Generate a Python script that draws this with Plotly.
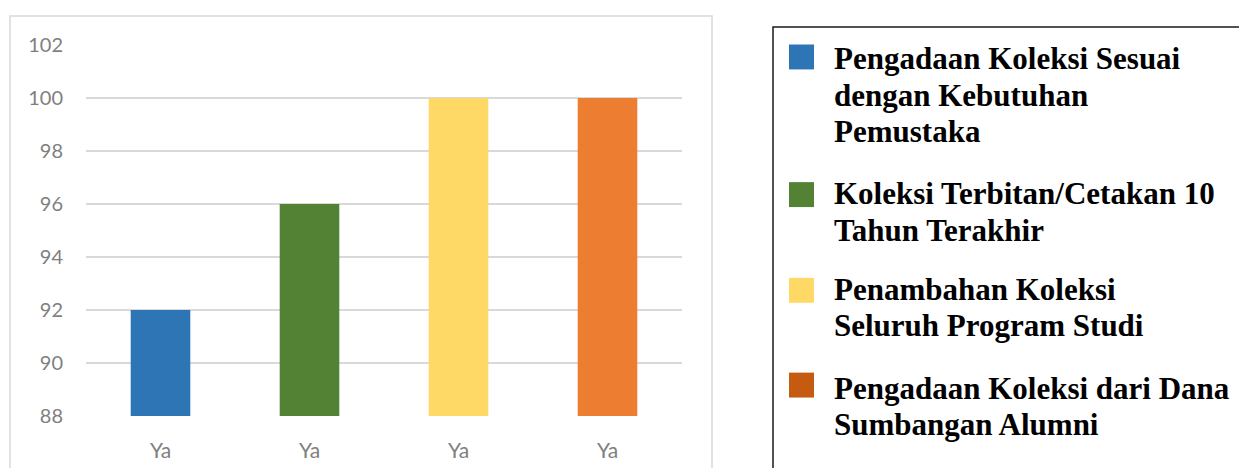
import plotly.graph_objects as go

# ---- data ----
categories = ["Ya", "Ya", "Ya", "Ya"]
values = [92, 96, 100, 100]
series_names = [
    "Pengadaan Koleksi Sesuai dengan Kebutuhan Pemustaka",
    "Koleksi Terbitan/Cetakan 10 Tahun Terakhir",
    "Penambahan Koleksi Seluruh Program Studi",
    "Pengadaan Koleksi dari Dana Sumbangan Alumni",
]
legend_lines = [
    ["Pengadaan Koleksi Sesuai", "dengan Kebutuhan", "Pemustaka"],
    ["Koleksi Terbitan/Cetakan 10", "Tahun Terakhir"],
    ["Penambahan Koleksi", "Seluruh Program Studi"],
    ["Pengadaan Koleksi dari Dana", "Sumbangan Alumni"],
]
bar_colors = ["#2E75B6", "#548235", "#FFD966", "#ED7D31"]
legend_colors = ["#2E75B6", "#548235", "#FFD966", "#C55A11"]
y_ticks = [88, 90, 92, 94, 96, 98, 100, 102]

REF_H = 468
W, H = 1239, 474
K = H / REF_H
L, R = 86, 682
T, B = 44 * K, 416 * K  # plot area in px

def px(x):
    return (x - L) / (R - L)

def py(y):
    return (B - y * K) / (B - T)

xs = list(range(len(values)))
base = y_ticks[0]

fig = go.Figure()
fig.add_trace(go.Bar(
    x=xs,
    y=[v - base for v in values],
    base=base,
    marker=dict(color=bar_colors, line=dict(width=0)),
    width=0.4,
    showlegend=False,
    hoverinfo="skip",
))

shapes = []
# chart area border
shapes.append(dict(type="rect", xref="paper", yref="paper",
                   x0=px(10), x1=px(712), y0=py(490), y1=py(15),
                   line=dict(color="#D9D9D9", width=1.5), layer="below"))
# legend box (left and top edges; the rest runs off the page)
shapes.append(dict(type="path", xref="paper", yref="paper",
                   path=f"M {px(773)},{py(490)} L {px(773)},{py(26)} L {px(1239)},{py(26)}",
                   line=dict(color="#1a1a1a", width=1.5)))

annotations = []
first_line_centers = [58, 193, 289, 388]
line_gap = 36.5
marker_centers = [56, 194, 290, 385]
for i, lines in enumerate(legend_lines):
    mc = marker_centers[i]
    shapes.append(dict(type="rect", xref="paper", yref="paper",
                       x0=px(789), x1=px(814), y0=py(mc + 12.5), y1=py(mc - 12.5),
                       fillcolor=legend_colors[i], line=dict(width=0)))
    for j, ln in enumerate(lines):
        annotations.append(dict(
            text="<b>" + ln + "</b>", xref="paper", yref="paper",
            x=px(832), y=py(first_line_centers[i] + j * line_gap),
            xanchor="left", yanchor="middle", showarrow=False, align="left",
            font=dict(family="Liberation Serif", size=31, color="#000000"),
        ))

fig.update_layout(
    width=W, height=H,
    margin=dict(l=L, r=W - R, t=T, b=H - B, pad=0),
    paper_bgcolor="white", plot_bgcolor="white",
    shapes=shapes, annotations=annotations,
    xaxis=dict(
        tickmode="array", tickvals=xs, ticktext=categories,
        range=[-0.5, len(values) - 0.5],
        showgrid=False, zeroline=False, showline=False, ticks="",
        tickfont=dict(family="Lato", size=21, color="#7F7F7F"),
        ticklabelstandoff=20,
    ),
    yaxis=dict(
        range=[y_ticks[0], y_ticks[-1]],
        tickmode="array", tickvals=y_ticks,
        showgrid=True, gridcolor="#D9D9D9", gridwidth=1.5,
        zeroline=False, showline=False, ticks="",
        tickfont=dict(family="Lato", size=20, color="#7F7F7F"),
        ticklabelstandoff=22,
    ),
    showlegend=False,
)

fig.write_html(
    "out.html",
    config={"displayModeBar": False},
    post_script="document.body.style.margin='0';document.body.style.overflow='hidden';",
)
